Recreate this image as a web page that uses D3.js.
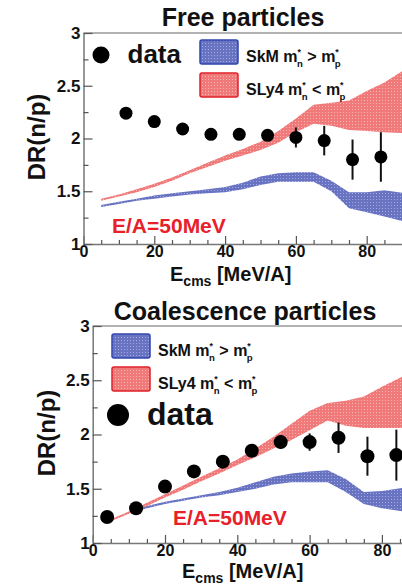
<!DOCTYPE html>
<html>
<head>
<meta charset="utf-8">
<script src="https://cdn.jsdelivr.net/npm/d3@7"></script>
<style>
  body { margin: 0; background: #fff; }
  svg { display: block; font-family: "Liberation Sans", Arial, Helvetica, sans-serif; font-weight: bold; }
</style>
</head>
<body>
<div id="chart"></div>
<script>
// ---- data: free particles ----
const freeE = [12, 20, 28, 36, 44, 52, 60, 68, 76, 84];
const freeDR = [2.24, 2.16, 2.09, 2.04, 2.04, 2.03, 2.01, 1.98, 1.80, 1.825];
const freeErr = [0.02, 0.02, 0.02, 0.02, 0.02, 0.03, 0.095, 0.14, 0.19, 0.235];

const freeBandE = [5, 10, 15, 20, 25, 30, 35, 40, 45, 50, 55, 60, 65, 70, 75, 80, 85, 91];
const freeSkmLo = [1.35, 1.38, 1.41, 1.43, 1.45, 1.47, 1.48, 1.49, 1.52, 1.56, 1.59, 1.59, 1.59, 1.50, 1.34, 1.30, 1.26, 1.21];
const freeSkmHi = [1.37, 1.40, 1.43, 1.46, 1.48, 1.50, 1.52, 1.54, 1.58, 1.64, 1.67, 1.68, 1.68, 1.60, 1.49, 1.49, 1.51, 1.48];
const freeSlyLo = [1.41, 1.45, 1.49, 1.54, 1.60, 1.67, 1.73, 1.79, 1.84, 1.89, 1.96, 2.06, 2.14, 2.12, 2.08, 2.07, 2.06, 2.05];
const freeSlyHi = [1.43, 1.47, 1.52, 1.57, 1.63, 1.70, 1.77, 1.84, 1.90, 1.97, 2.07, 2.19, 2.32, 2.34, 2.36, 2.45, 2.53, 2.66];

// ---- data: coalescence particles ----
const coalE = [4, 12, 20, 28, 36, 44, 52, 60, 68, 76, 84];
const coalDR = [1.24, 1.32, 1.52, 1.66, 1.75, 1.85, 1.93, 1.93, 1.97, 1.80, 1.81];
const coalErr = [0.02, 0.02, 0.03, 0.03, 0.03, 0.04, 0.06, 0.08, 0.14, 0.18, 0.235];

const coalSkmE = [12, 15, 20, 25, 30, 35, 40, 45, 50, 55, 60, 65, 70, 75, 80, 86];
const coalSkmLo = [1.29, 1.32, 1.36, 1.39, 1.42, 1.44, 1.47, 1.50, 1.54, 1.56, 1.56, 1.56, 1.47, 1.36, 1.32, 1.29];
const coalSkmHi = [1.31, 1.34, 1.38, 1.41, 1.44, 1.47, 1.51, 1.56, 1.61, 1.64, 1.66, 1.67, 1.59, 1.47, 1.48, 1.51];
const coalSlyE = [5, 10, 15, 20, 25, 30, 35, 40, 45, 50, 55, 60, 65, 70, 75, 80, 86];
const coalSlyLo = [1.20, 1.27, 1.34, 1.42, 1.49, 1.57, 1.64, 1.72, 1.79, 1.87, 1.95, 2.04, 2.13, 2.08, 2.06, 2.06, 2.06];
const coalSlyHi = [1.22, 1.29, 1.37, 1.45, 1.53, 1.61, 1.69, 1.77, 1.87, 1.98, 2.10, 2.22, 2.29, 2.31, 2.35, 2.44, 2.54];

const yMajor = [1, 1.5, 2, 2.5, 3];
const yMinor = [1.25, 1.75, 2.25, 2.75];
const xMajor = [0, 20, 40, 60, 80];
const xMinor = d3.range(5, 100, 5).filter(v => v % 20 !== 0);

const W = 402, H = 588;
const svg = d3.select("#chart").append("svg")
  .attr("width", W).attr("height", H);

// dotted fills for the theory bands
const defs = svg.append("defs");
function dotPattern(id, base, dot) {
  const p = defs.append("pattern").attr("id", id)
    .attr("width", 3).attr("height", 3).attr("patternUnits", "userSpaceOnUse");
  p.append("rect").attr("width", 3).attr("height", 3).attr("fill", base);
  p.append("rect").attr("x", 1).attr("y", 1).attr("width", 1).attr("height", 1).attr("fill", dot);
}
dotPattern("redDots", "#f07a7a", "#fbb4b4");
dotPattern("blueDots", "#6873c2", "#a3aadf");

function mText(g, x, y, size, pre, rel) {
  // "SkM m*_n > m*_p" style label
  const t = g.append("text").attr("x", x).attr("y", y).attr("font-size", size).attr("fill", "#111");
  t.append("tspan").text(pre + " m");
  t.append("tspan").attr("dy", -size * 0.45).attr("font-size", size * 0.55).text("*");
  t.append("tspan").attr("dx", -size * 0.25).attr("dy", size * 0.75).attr("font-size", size * 0.6).text("n");
  t.append("tspan").attr("dy", -size * 0.3).text(" " + rel + " m");
  t.append("tspan").attr("dy", -size * 0.45).attr("font-size", size * 0.55).text("*");
  t.append("tspan").attr("dx", -size * 0.25).attr("dy", size * 0.75).attr("font-size", size * 0.6).text("p");
}

function drawPanel(c) {
  const g = svg.append("g");
  const x = d3.scaleLinear().domain([0, 100]).range([c.x0, c.x0 + 100 * c.kx]);
  const y = d3.scaleLinear().domain([1, 3]).range([c.yBot, c.yTop]);

  g.append("text").attr("x", c.titleX).attr("y", c.titleY)
    .attr("text-anchor", "middle").attr("font-size", 25).attr("fill", "#111").text(c.title);

  // bands
  const area = (E, lo, hi) => d3.area()
    .x((d, i) => x(E[i])).y0((d, i) => y(lo[i])).y1((d, i) => y(hi[i]))(E);
  g.append("path").attr("d", area(c.skmE, c.skmLo, c.skmHi)).attr("fill", "url(#blueDots)");
  g.append("path").attr("d", area(c.slyE, c.slyLo, c.slyHi)).attr("fill", "url(#redDots)");

  // frame top
  g.append("line").attr("x1", c.x0).attr("x2", W).attr("y1", c.yTop).attr("y2", c.yTop)
    .attr("stroke", "#999").attr("stroke-width", 1.5);

  // axes, ticks pointing inward
  const ax = g.append("g").attr("transform", `translate(0,${c.yBot})`)
    .call(d3.axisBottom(x).tickValues(xMajor).tickSizeInner(-8).tickSizeOuter(0).tickPadding(2).tickFormat(d3.format("d")));
  g.append("g").attr("transform", `translate(0,${c.yBot})`)
    .call(d3.axisBottom(x).tickValues(xMinor).tickSizeInner(-4).tickSizeOuter(0).tickFormat(""))
    .select(".domain").remove();
  const ay = g.append("g").attr("transform", `translate(${c.x0},0)`)
    .call(d3.axisLeft(y).tickValues(yMajor).tickSizeInner(-9).tickSizeOuter(0).tickPadding(3).tickFormat(d => d));
  g.append("g").attr("transform", `translate(${c.x0},0)`)
    .call(d3.axisLeft(y).tickValues(yMinor).tickSizeInner(-5).tickSizeOuter(0).tickFormat(""))
    .select(".domain").remove();
  g.selectAll(".domain").attr("stroke", "#777").attr("stroke-width", 1.5);
  g.selectAll(".tick line").attr("stroke", "#555").attr("stroke-width", 1.2);
  ax.selectAll("text").attr("font-size", 16).attr("font-family", null).attr("fill", "#111");
  ay.selectAll("text").attr("font-size", 17).attr("font-family", null).attr("fill", "#111");

  // axis titles
  g.append("text")
    .attr("transform", `translate(${c.yLabX},${c.yLabY}) rotate(-90)`)
    .attr("text-anchor", "middle").attr("font-size", 24).attr("fill", "#111").text("DR(n/p)");
  const xt = g.append("text").attr("x", c.xLabX).attr("y", c.xLabY)
    .attr("font-size", 20).attr("fill", "#111");
  xt.append("tspan").text("E");
  xt.append("tspan").attr("dy", 5).attr("font-size", 14).text("cms");
  xt.append("tspan").attr("dy", -5).text(" [MeV/A]");

  // data with error bars
  const pts = c.E.map((e, i) => ({ e, v: c.dr[i], err: c.err[i] }));
  g.selectAll(".eb").data(pts).enter().append("line")
    .attr("x1", d => x(d.e)).attr("x2", d => x(d.e))
    .attr("y1", d => y(d.v - d.err)).attr("y2", d => y(d.v + d.err))
    .attr("stroke", "#111").attr("stroke-width", 2);
  g.selectAll(".pt").data(pts).enter().append("circle")
    .attr("cx", d => x(d.e)).attr("cy", d => y(d.v)).attr("r", c.r).attr("fill", "#000");

  // legend
  g.append("rect").attr("x", c.legX).attr("y", c.legY).attr("width", 38).attr("height", 24)
    .attr("fill", "url(#blueDots)").attr("stroke", "#2f45b0").attr("stroke-width", 1.5).attr("rx", 2);
  g.append("rect").attr("x", c.legX).attr("y", c.legY + 33).attr("width", 38).attr("height", 24)
    .attr("fill", "url(#redDots)").attr("stroke", "#e0202a").attr("stroke-width", 1.5).attr("rx", 2);
  mText(g, c.legX + 46, c.legY + 22, 16, "SkM", ">");
  mText(g, c.legX + 46, c.legY + 55, 16, "SLy4", "<");

  g.append("circle").attr("cx", c.dataX).attr("cy", c.dataY).attr("r", c.dataR).attr("fill", "#000");
  g.append("text").attr("x", c.dataX + c.dataR + 18).attr("y", c.dataY + c.dataFs * 0.3)
    .attr("font-size", c.dataFs).attr("fill", "#111").text("data");

  g.append("text").attr("x", c.eaX).attr("y", c.eaY).attr("font-size", 21)
    .attr("fill", "#e8202a").text("E/A=50MeV");
}

drawPanel({
  title: "Free particles", titleX: 243, titleY: 26,
  x0: 83.5, kx: 3.54, yTop: 33, yBot: 244,
  yLabX: 45, yLabY: 137, xLabX: 170, xLabY: 281,
  E: freeE, dr: freeDR, err: freeErr, r: 6.5,
  skmE: freeBandE, skmLo: freeSkmLo, skmHi: freeSkmHi,
  slyE: freeBandE, slyLo: freeSlyLo, slyHi: freeSlyHi,
  legX: 200, legY: 40,
  dataX: 101, dataY: 55, dataR: 8.5, dataFs: 26,
  eaX: 112, eaY: 233
});

drawPanel({
  title: "Coalescence particles", titleX: 245, titleY: 320,
  x0: 92.7, kx: 3.615, yTop: 326, yBot: 543,
  yLabX: 55, yLabY: 433, xLabX: 182, xLabY: 578,
  E: coalE, dr: coalDR, err: coalErr, r: 7,
  skmE: coalSkmE, skmLo: coalSkmLo, skmHi: coalSkmHi,
  slyE: coalSlyE, slyLo: coalSlyLo, slyHi: coalSlyHi,
  legX: 112, legY: 334,
  dataX: 118, dataY: 415, dataR: 11, dataFs: 32,
  eaX: 173, eaY: 525
});
</script>
</body>
</html>
